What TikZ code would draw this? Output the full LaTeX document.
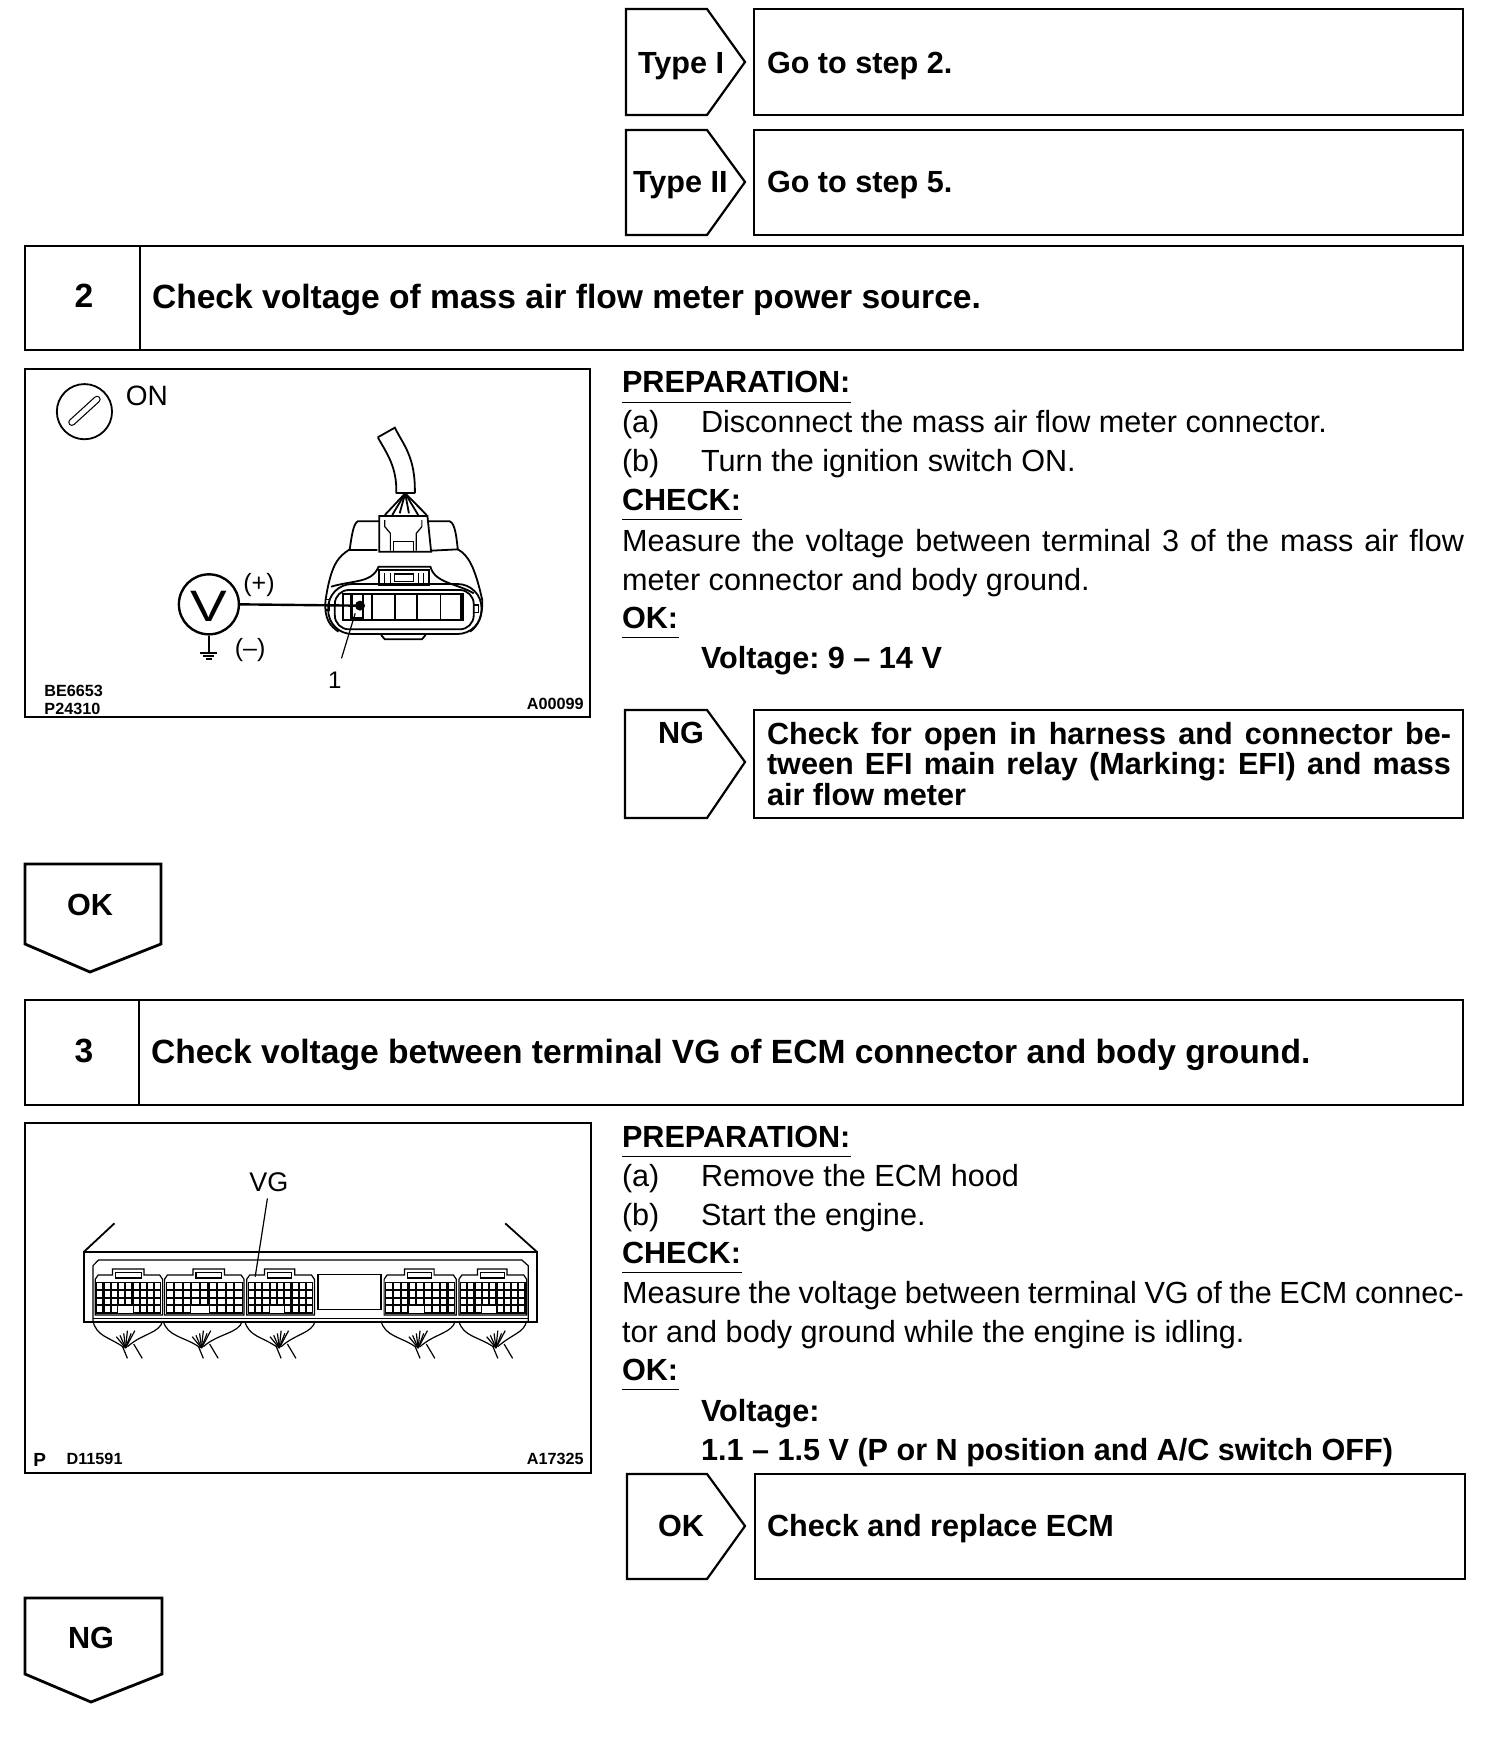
\documentclass[tikz,border=0pt]{standalone}
\usepackage{fontspec}
\usepackage{graphicx}
\setmainfont{Liberation Sans}
\frenchspacing
\newcommand{\bodyf}{\fontsize{15.3}{18}\selectfont}
\newcommand{\headf}{\fontsize{16.8}{19}\selectfont\bfseries}
\newcommand{\subf}{\fontsize{15.3}{18}\selectfont\bfseries}
\newcommand{\tinyf}{\fontsize{8.1}{9}\selectfont\bfseries}
\newcommand{\jline}[2]{\makebox[#1pt][s]{#2}}
% connector of the ECU: x0 x1 tab0 tab1, in zoom coordinates
\newcommand{\ecuconn}[4]{%
  \draw[ill] (#1,585) -- (#1,478) -- (#1+8,465) -- (#3,465) -- (#3,447) -- (#4,447) -- (#4,465) -- (#2-8,465) -- (#2,478) -- (#2,585) -- cycle;
  \draw[ill] (#3+8,458) rectangle (#4-8,474);
  \fill[black] (#1+3,486) rectangle (#2-3,583);
  \pgfmathsetmacro{\cw}{(#2-#1-6)/9}
  \foreach \r in {0,1,2,3}{
    \foreach \c in {0,...,8}{
      \fill[white] ({#1+3+\c*\cw+3},{490+\r*23}) rectangle ({#1+3+(\c+1)*\cw-3},{490+\r*23+17});
    }
  }
  \fill[white] ({#1+3+3*\cw},{559}) rectangle ({#1+3+5*\cw},{578});
}
\newcommand{\ecuwires}[3]{%
  \draw[ill] (#1,603) .. controls (#1+10,650) and (#3-45,650) .. (#3-5,682);
  \draw[ill] (#2,603) .. controls (#2-8,640) and (#3+45,640) .. (#3+5,680);
  \draw[ill] (#3-8,680) -- (#3+5,715);
  \draw[ill] (#3+22,672) -- (#3+45,715);
  \foreach \a/\b in {-25/650,-15/646,-5/640,5/632,15/640,25/632}{
    \draw[ill] (#3,684) -- (#3+\a,\b);
  }
}
\tikzset{
  frame/.style={draw=black,line width=1.4pt,fill=white},
  thin frame/.style={draw=black,line width=1.1pt},
  txt/.style={anchor=base west,inner sep=0pt,outer sep=0pt},
  ctr/.style={anchor=base,inner sep=0pt,outer sep=0pt},
  rule/.style={draw=black,line width=0.5pt},
  ill/.style={draw=black,line width=0.6pt},
  illb/.style={draw=black,line width=0.9pt},
  zoomed/.style={x=0.18519pt,y=-0.16667pt},
}
\begin{document}
\begin{tikzpicture}[x=0.5pt,y=-0.5pt]
\useasboundingbox[fill=white] (0,0) rectangle (1504,1738);

% ---- Type I / Type II
\draw[thin frame] (626,9) -- (707,9) -- (745,62) -- (707,115) -- (626,115) -- cycle;
\draw[frame] (754,9) rectangle (1463,115);
\node[txt,font=\subf] (t1) at (638,74) {Type I};
\node[txt,font=\subf] (g1) at (767,74) {Go to step 2.};
\draw[thin frame] (626,130) -- (707,130) -- (745,182) -- (707,235) -- (626,235) -- cycle;
\draw[frame] (754,130) rectangle (1463,235);
\node[txt,font=\subf] (t2) at (633,193) {Type II};
\node[txt,font=\subf] (g2) at (767,193) {Go to step 5.};

% ---- Step 2
\draw[frame] (25,246) rectangle (1463,350);
\draw[frame] (140,246) -- (140,350);
\node[ctr,font=\headf] (s2) at (84,307) {2};
\node[txt,font=\headf] (s2t) at (152,309) {Check voltage of mass air flow meter power source.};

% ---- Illustration 1
\draw[frame] (25,369) rectangle (590,717);
\begin{scope}[shift={(20,360)},zoomed]
  % key switch
  \draw[illb] (174,155) circle[radius=13.8pt];
  \draw[line width=3.6pt,line cap=round] (140,187) -- (208,118);
  \draw[line width=2.4pt,line cap=round,white] (140,187) -- (208,118);
  \node[txt,font=\fontsize{14}{15}\selectfont] (on) at (286,136) {ON};
  % cable
  \draw[illb] (966,232) -- (1012,203) .. controls (1035,255) and (1068,290) .. (1066,400);
  \draw[illb] (966,232) .. controls (990,280) and (1018,320) .. (1016,400);
  \draw[illb] (1016,400) -- (1066,400);
  % fan of wires
  \foreach \a/\b in {985/465,1005/465,1025/460,1050/460,1075/465,1098/465}{
    \draw[illb] (1040,400) -- (\a,\b);
  }
  % top clip
  \draw[illb] (970,468) -- (1100,468) -- (1110,575) -- (970,575) -- cycle;
  \draw[ill] (985,480) -- (985,500) -- (1000,520) -- (1000,572);
  \draw[ill] (1085,480) -- (1085,500) -- (1070,520) -- (1070,572);
  \draw[ill] (1008,572) -- (1008,545) -- (1062,545) -- (1062,572);
  % ears
  \draw[illb] (970,484) -- (912,484) .. controls (900,490) and (895,530) .. (890,570) -- (965,570);
  \draw[illb] (1100,484) -- (1160,484) .. controls (1175,490) and (1178,530) .. (1182,568) -- (1110,572);
  % body
  \draw[illb] (890,568) .. controls (860,590) and (840,610) .. (825,720) .. controls (820,780) and (840,800) .. (860,815);
  \draw[illb] (1182,568) .. controls (1210,585) and (1228,620) .. (1248,720) .. controls (1250,770) and (1235,800) .. (1215,815);
  \draw[illb] (840,680) .. controls (900,660) and (950,670) .. (968,620) -- (1108,620) .. controls (1120,670) and (1180,670) .. (1225,700);
  % mouth
  \draw[illb,rounded corners=12pt] (832,672) rectangle (1246,822);
  \draw[illb,rounded corners=7pt] (850,690) rectangle (1225,808);
  \draw[line width=1pt] (872,703) rectangle (1197,780);
  \draw[illb] (872,720) -- (872,765);
  \foreach \q in {925,950,1012,1072,1135,1190}{ \draw[illb] (\q,703) -- (\q,782); }
  \draw[line width=1.3pt] (895,703) -- (895,775) -- (925,775);
  % latch
  \draw[illb] (970,630) rectangle (1105,676);
  \draw[ill] (1010,642) rectangle (1062,664);
  \foreach \q in {985,1000,1075,1090}{ \draw[ill] (\q,640) -- (\q,676); }
  % bottom tab
  \draw[illb] (975,825) -- (985,838) -- (1085,838) -- (1095,825);
  % side notches
  \draw[ill] (1225,735) rectangle (1238,758);
  \draw[ill] (825,718) rectangle (835,750);
  % meter
  \node[circle,draw=black,line width=1.2pt,minimum size=30pt,inner sep=0pt] (vm) at (510,733) {};
  \node[ctr,font=\fontsize{22}{25}\selectfont] (vl) at (510,785) {\scalebox{1.25}[1]{V}};
  \coordinate (probe) at (918,737);
  \fill (probe) ellipse[x radius=2.5pt,y radius=2.5pt];
  \draw[line width=1.2pt] (vm.east) -- (probe);
  \coordinate (gnd) at (510,875);
  \draw[line width=0.9pt] (vm.south) -- (gnd);
  \draw[line width=0.9pt] (487,878) -- (533,878);
  \draw[line width=0.8pt] (495,888) -- (525,888);
  \draw[line width=0.8pt] (502,897) -- (518,897);
  \node[txt,font=\fontsize{12.5}{14}\selectfont] (plus) at (603,695) {(+)};
  \node[txt,font=\fontsize{12.5}{14}\selectfont] (minus) at (580,890) {(–)};
  \node[ctr,font=\fontsize{12}{14}\selectfont] (one) at (850,985) {1};
  \coordinate (t1p) at (905,760);
  \draw[ill] (868,895) -- (t1p);
  \node[txt,font=\tinyf] (be) at (66,1008) {BE6653};
  \node[txt,font=\tinyf] (p24) at (66,1062) {P24310};
  \node[txt,font=\tinyf,anchor=base east] (a99) at (1522,1048) {A00099};
\end{scope}

% ---- Text block 1
\node[txt,font=\subf] (p1) at (622,393) {PREPARATION:};
\draw[rule] (p1.base west)++(0,9) -- ++(229,0);
\node[txt,font=\bodyf] (a1) at (622,432) {(a)};
\node[txt,font=\bodyf] (a1t) at (701,432) {Disconnect the mass air flow meter connector.};
\node[txt,font=\bodyf] (b1) at (622,471) {(b)};
\node[txt,font=\bodyf] (b1t) at (701,471) {Turn the ignition switch ON.};
\node[txt,font=\subf] (c1) at (622,510) {CHECK:};
\draw[rule] (c1.base west)++(0,9) -- ++(120,0);
\node[txt,font=\bodyf] (m1) at (622,551) {\jline{421}{Measure the voltage between terminal 3 of the mass air flow}};
\node[txt,font=\bodyf] (m2) at (622,590) {meter connector and body ground.};
\node[txt,font=\subf] (o1) at (622,628) {OK:};
\draw[rule] (o1.base west)++(0,9) -- ++(57,0);
\node[txt,font=\subf] (v1) at (701,668) {Voltage: 9 – 14 V};

% ---- NG tag
\draw[thin frame] (625,710) -- (707,710) -- (745,762) -- (707,818) -- (625,818) -- cycle;
\node[txt,font=\subf] (ng1) at (658,743) {NG};
\draw[frame] (754,710) rectangle (1463,818);
\node[txt,font=\subf] (n1) at (767,744) {\jline{342}{Check for open in harness and connector be-}};
\node[txt,font=\subf] (n2) at (767,774) {\jline{342}{tween EFI main relay (Marking: EFI) and mass}};
\node[txt,font=\subf] (n3) at (767,805) {air flow meter};

% ---- OK down
\draw[frame] (25,864) -- (161,864) -- (161,944) -- (90,972) -- (25,944) -- cycle;
\node[ctr,font=\subf] (ok1) at (90,915) {OK};

% ---- Step 3
\draw[frame] (25,1000) rectangle (1463,1105);
\draw[frame] (139,1000) -- (139,1105);
\node[ctr,font=\headf] (s3) at (84,1062) {3};
\node[txt,font=\headf] (s3t) at (151,1063) {Check voltage between terminal VG of ECM connector and body ground.};

% ---- Illustration 2
\draw[frame] (25,1123) rectangle (591,1473);
\begin{scope}[shift={(20,1120)},zoomed]
  \node[ctr,font=\fontsize{13.5}{15}\selectfont] (vg) at (672,215) {VG};
  \draw[illb] (255,310) -- (173,395);
  \draw[illb] (1310,310) -- (1395,395);
  \draw[line width=0.9pt] (173,397) rectangle (1395,607);
  \draw[ill] (197,605) -- (197,437) -- (212,420) -- (1355,420) -- (1372,437) -- (1372,605);
  \draw[ill] (197,595) -- (1372,595);
  \draw[line width=0.8pt] (805,463) rectangle (975,568);
  \ecuconn{203}{385}{250}{335}
  \ecuconn{390}{605}{467}{552}
  \ecuconn{612}{795}{660}{742}
  \ecuconn{983}{1178}{1038}{1118}
  \ecuconn{1185}{1368}{1235}{1315}
  \ecuwires{197}{385}{285}
  \ecuwires{387}{600}{490}
  \ecuwires{607}{797}{700}
  \ecuwires{975}{1175}{1075}
  \ecuwires{1185}{1368}{1285}
  \coordinate (vgp) at (635,470);
  \draw[ill] (668,235) -- (vgp);
  \node[txt,font=\fontsize{9.5}{11}\selectfont\bfseries] (pp) at (36,1040) {P};
  \node[txt,font=\tinyf] (d11) at (126,1032) {D11591};
  \node[txt,font=\tinyf,anchor=base east] (a17) at (1522,1032) {A17325};
\end{scope}

% ---- Text block 2
\node[txt,font=\subf] (p2) at (622,1147) {PREPARATION:};
\draw[rule] (p2.base west)++(0,9) -- ++(229,0);
\node[txt,font=\bodyf] (a2) at (622,1186) {(a)};
\node[txt,font=\bodyf] (a2t) at (701,1186) {Remove the ECM hood};
\node[txt,font=\bodyf] (b2) at (622,1225) {(b)};
\node[txt,font=\bodyf] (b2t) at (701,1225) {Start the engine.};
\node[txt,font=\subf] (c2) at (622,1263) {CHECK:};
\draw[rule] (c2.base west)++(0,9) -- ++(120,0);
\node[txt,font=\bodyf] (m3) at (622,1303) {\jline{421}{Measure the voltage between terminal VG of the ECM connec-}};
\node[txt,font=\bodyf] (m4) at (622,1342) {tor and body ground while the engine is idling.};
\node[txt,font=\subf] (o2) at (622,1380) {OK:};
\draw[rule] (o2.base west)++(0,9) -- ++(57,0);
\node[txt,font=\subf] (v2) at (701,1421) {Voltage:};
\node[txt,font=\subf] (v3) at (701,1460) {1.1 – 1.5 V (P or N position and A/C switch OFF)};

% ---- OK tag
\draw[thin frame] (627,1474) -- (707,1474) -- (745,1526) -- (707,1579) -- (627,1579) -- cycle;
\node[txt,font=\subf] (ok2) at (658,1536) {OK};
\draw[frame] (755,1474) rectangle (1465,1579);
\node[txt,font=\subf] (r1) at (767,1536) {Check and replace ECM};

% ---- NG down
\draw[frame] (25,1598) -- (162,1598) -- (162,1674) -- (91,1702) -- (25,1674) -- cycle;
\node[ctr,font=\subf] (ng2) at (91,1648) {NG};
\end{tikzpicture}
\end{document}
